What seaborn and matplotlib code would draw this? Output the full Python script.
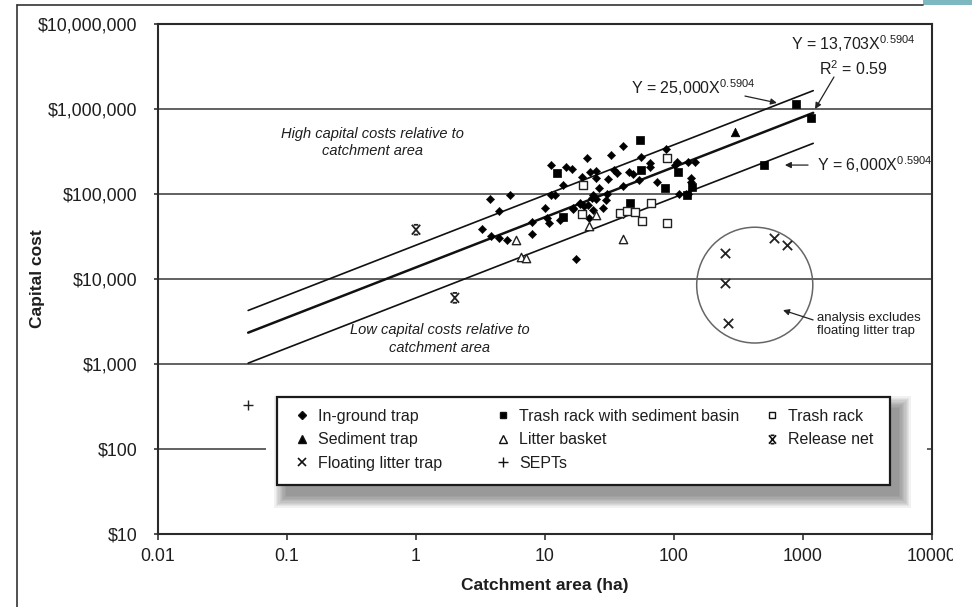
import numpy as np
import matplotlib.pyplot as plt
import seaborn as sns
from matplotlib.lines import Line2D
from matplotlib.patches import Rectangle, Ellipse
from matplotlib.path import Path
from matplotlib.ticker import FixedLocator, FuncFormatter, NullLocator
from matplotlib.transforms import Bbox, TransformedBbox

# ---- data (catchment area in ha, capital cost in $) ----
in_ground_x = [3.75, 5.4, 4.4, 3.24, 3.8, 4.4, 5.1, 7.9, 7.9, 10,
               10.4, 10.7, 13, 16.5, 17.5, 11.2, 14.5, 16.2, 13.8, 11.2,
               12, 21, 22.5, 25, 23.4, 16.6, 18.6, 21.5, 25, 22,
               40, 32.6, 55, 87, 105, 128, 145, 102, 65, 65,
               34, 36, 45, 48, 25, 19.5, 31, 54, 74, 40,
               26, 135, 135, 110, 123, 128, 23, 30, 29.5, 18.6,
               20, 23.4, 28, 40]
in_ground_y = [87000, 98000, 63000, 39000, 32000, 30000, 29000, 34000, 47000, 69000,
               52000, 46000, 49000, 66000, 17000, 220000, 210000, 195000, 127000, 98000,
               98000, 264000, 182000, 186000, 98000, 69000, 76000, 74000, 87000, 52000,
               363000, 288000, 274000, 340000, 240000, 240000, 240000, 219000, 230000, 210000,
               190000, 178000, 182000, 174000, 155000, 160000, 151000, 146000, 138000, 124000,
               117000, 155000, 138000, 100000, 100000, 100000, 89000, 99000, 86000, 78000,
               72000, 65000, 69000, 58000]

basin_x = [13.8, 12.4, 54.5, 108, 55.5, 85, 138, 126, 46, 500, 890, 1150]
basin_y = [54000, 175000, 431000, 182000, 190000, 117000, 122000, 98000, 78000,
           220000, 1150000, 780000]

rack_x = [19.7, 19.5, 89, 38, 43, 50, 66, 56, 89]
rack_y = [127000, 58000, 264000, 60000, 63000, 61000, 78000, 48000, 45000]

sediment_x = [295]
sediment_y = [537000]

basket_x = [5.96, 6.5, 7.1, 22, 25, 40]
basket_y = [29000, 18000, 17500, 42000, 56000, 29500]

floating_x = [250, 250, 260, 600, 750]
floating_y = [20000, 9000, 3000, 30000, 25000]

release_x = [1, 2]
release_y = [38000, 6000]

septs_x = [0.05]
septs_y = [330]

# fitted power laws Y = a * X^b
fit_coef = [25000, 13703, 6000]
fit_exp = 0.5904
fit_x = np.array([0.05, 1200])

x_ticks = [0.01, 0.1, 1, 10, 100, 1000, 10000]
x_labels = ["0.01", "0.1", "1", "10", "100", "1000", "10000"]
y_ticks = [10, 100, 1000, 10000, 100000, 1000000, 10000000]

W, H = 972, 607


def fpx(x, y):
    """figure pixel (origin top-left) -> figure fraction"""
    return (x / W, 1 - y / H)


sns.set_style("ticks")
plt.rcParams["font.family"] = ["Liberation Sans", "DejaVu Sans"]
plt.rcParams["mathtext.fontset"] = "custom"
plt.rcParams["mathtext.rm"] = "Liberation Sans"
plt.rcParams["mathtext.it"] = "Liberation Sans:italic"
TXT = "#1e1e1e"

fig = plt.figure(figsize=(W / 100, H / 100), dpi=100)
fig.patch.set_facecolor("white")
ax = fig.add_axes([158 / W, (H - 534) / H, 774 / W, 510 / H])

ax.set_xscale("log")
ax.set_yscale("log")
ax.set_xlim(0.01, 10000)
ax.set_ylim(10, 1e7)

# horizontal gridlines at each decade
for yv in y_ticks[1:-1]:
    ax.axhline(yv, color="#555555", lw=1.3, zorder=1)

# fitted lines
for i, a in enumerate(fit_coef):
    sns.lineplot(x=fit_x, y=a * fit_x ** fit_exp, ax=ax, color="#111111",
                 lw=1.8 if i == 1 else 1.2, zorder=2)

# release net marker: X with short bars at top and bottom
release_marker = Path(
    [(-0.85, -1), (0.85, 1), (-0.85, 1), (0.85, -1),
     (-0.45, 1), (0.45, 1), (-0.45, -1), (0.45, -1)],
    [Path.MOVETO, Path.LINETO] * 4)

sns.scatterplot(x=in_ground_x, y=in_ground_y, ax=ax, marker="D", s=18,
                color="black", edgecolor="black", linewidth=0.3, zorder=3)
sns.scatterplot(x=basin_x, y=basin_y, ax=ax, marker="s", s=34,
                color="black", edgecolor="black", linewidth=0.5, zorder=3)
sns.scatterplot(x=rack_x, y=rack_y, ax=ax, marker="s", s=34,
                facecolor="white", edgecolor="#222222", linewidth=1.0, zorder=3)
sns.scatterplot(x=sediment_x, y=sediment_y, ax=ax, marker="^", s=38,
                color="black", edgecolor="black", linewidth=0.5, zorder=3)
sns.scatterplot(x=basket_x, y=basket_y, ax=ax, marker="^", s=36,
                facecolor="white", edgecolor="#222222", linewidth=1.0, zorder=3)
sns.scatterplot(x=floating_x, y=floating_y, ax=ax, marker="x", s=45,
                color="#222222", linewidth=1.3, zorder=3)
sns.scatterplot(x=release_x, y=release_y, ax=ax, marker=release_marker, s=50,
                facecolor="none", edgecolor="#222222", linewidth=1.3, zorder=3)
sns.scatterplot(x=septs_x, y=septs_y, ax=ax, marker="+", s=55,
                color="#222222", linewidth=1.0, zorder=3)

# circle around floating litter traps
ax.add_patch(Ellipse((0.771, 0.488), 0.150, 0.227, transform=ax.transAxes,
                     fill=False, ec="#666666", lw=1.1, zorder=2))

# text annotations
ax.text(0.456, 4.0e5, "High capital costs relative to\ncatchment area", style="italic",
        ha="center", va="center", fontsize=10.5, color=TXT, linespacing=1.3)
ax.text(1.53, 1.97e3, "Low capital costs relative to\ncatchment area", style="italic",
        ha="center", va="center", fontsize=10.5, color=TXT, linespacing=1.3)
ax.text(2440, 5.9e6, "Y = 13,703X$^{0.5904}$", ha="center", va="center",
        fontsize=11.5, color=TXT)
ax.text(2440, 2.95e6, "R$^{2}$ = 0.59", ha="center", va="center",
        fontsize=11.5, color=TXT)
ax.text(140, 1.77e6, "Y = 25,000X$^{0.5904}$", ha="center", va="center",
        fontsize=11.5, color=TXT)
ax.text(1290, 2.19e5, "Y = 6,000X$^{0.5904}$", ha="left", va="center",
        fontsize=11.5, color=TXT)
ax.text(1285, 2.9e3, "analysis excludes\nfloating litter trap", ha="left", va="center",
        fontsize=9.5, color=TXT, linespacing=1.15)

arrow_kw = dict(arrowstyle="-|>", color="#222222", lw=0.9, mutation_scale=9,
                shrinkA=0, shrinkB=0)
ax.annotate("", xy=(628, 1.18e6), xytext=(355, 1.42e6), arrowprops=arrow_kw)
ax.annotate("", xy=(1240, 1.0e6), xytext=(1738, 2.38e6), arrowprops=arrow_kw)
ax.annotate("", xy=(724, 2.19e5), xytext=(1094, 2.19e5), arrowprops=arrow_kw)
ax.annotate("", xy=(700, 4.3e3), xytext=(1197, 3.3e3), arrowprops=arrow_kw)

# axes styling
ax.xaxis.set_major_locator(FixedLocator(x_ticks))
ax.xaxis.set_minor_locator(NullLocator())
ax.set_xticklabels(x_labels)
ax.yaxis.set_major_locator(FixedLocator(y_ticks))
ax.yaxis.set_minor_locator(NullLocator())
ax.yaxis.set_major_formatter(FuncFormatter(lambda v, p: "\\$" + f"{int(round(v)):,}"))
ax.tick_params(axis="x", direction="out", length=4, width=1.2, pad=6,
               labelsize=12.8, labelcolor=TXT, color="#333333")
ax.tick_params(axis="y", direction="out", length=3, width=1.2, pad=12,
               labelsize=12.8, labelcolor=TXT, color="#333333")
for sp in ax.spines.values():
    sp.set_visible(True)
    sp.set_color("#2a2a2a")
    sp.set_linewidth(1.5)

ax.set_xlabel("Catchment area (ha)", fontsize=12.5, fontweight="bold", color=TXT)
ax.set_ylabel("Capital cost", fontsize=12.5, fontweight="bold", color=TXT)
ax.xaxis.set_label_coords(0.5, -0.086)
ax.yaxis.set_label_coords(-0.146, 0.5)

# last x tick label is cut at the picture's right edge
clip = TransformedBbox(Bbox.from_extents(0, 0, 953 / W, 1), fig.transFigure)
last_label = ax.xaxis.get_major_ticks()[-1].label1
last_label.set_clip_box(clip)
last_label.set_clip_on(True)

# legend area: white cover, soft shadow, framed box
x0, y0, x1, y1 = 277, 397, 890, 485
fig.add_artist(Rectangle(fpx(266, 510), (927 - 266) / W, 120 / H, transform=fig.transFigure,
                         facecolor="white", lw=0, zorder=1))
for i in range(10):
    g = 1.3 * i
    fig.add_artist(Rectangle(fpx(x0 + 9 - g, y1 + 11 + g), (x1 - x0 + 2 * g) / W,
                             (y1 - y0 + 2 * g) / H, transform=fig.transFigure,
                             facecolor="#3a3a3a", alpha=0.065, lw=0, zorder=2))
fig.add_artist(Rectangle(fpx(x0, y1), (x1 - x0) / W, (y1 - y0) / H, transform=fig.transFigure,
                         facecolor="white", edgecolor="#1a1a1a", lw=1.6, zorder=3))


def handle(marker, face, ms=5, mew=1.0):
    return Line2D([], [], ls="none", marker=marker, markersize=ms, color="#111111",
                  markerfacecolor=face, markeredgecolor="#111111", markeredgewidth=mew)


columns = [
    ([handle("D", "black", 4), handle("^", "black", 5.5), handle("x", "none", 6, 1.2)],
     ["In-ground trap", "Sediment trap", "Floating litter trap"], 302),
    ([handle("s", "black", 5), handle("^", "white", 5.5), handle("+", "none", 7, 1.0)],
     ["Trash rack with sediment basin", "Litter basket", "SEPTs"], 503),
    ([handle("s", "white", 5), handle(release_marker, "none", 6, 1.2)],
     ["Trash rack", "Release net"], 772),
]
fs = 11.5
hl = 0.8
for hs, labels, mx in columns:
    left = mx - hl * fs * 100 / 72 / 2
    leg = fig.legend(hs, labels, loc="upper left", bbox_to_anchor=fpx(left, 409),
                     frameon=False, fontsize=fs, handlelength=hl, handletextpad=0.6,
                     labelspacing=0.52, borderpad=0, borderaxespad=0)
    leg.set_zorder(5)
    for t in leg.get_texts():
        t.set_color(TXT)

# outer frame of the picture and the coloured tab at the top right
fig.add_artist(Line2D([17 / W, 17 / W], [0, 1 - 5 / H], transform=fig.transFigure,
                      color="#333333", lw=1.2))
fig.add_artist(Line2D([17 / W, 923 / W], [1 - 5 / H, 1 - 5 / H], transform=fig.transFigure,
                      color="#333333", lw=1.2))
fig.add_artist(Rectangle(fpx(923, 5), 49 / W, 5 / H, transform=fig.transFigure,
                         facecolor="#7db7bf", lw=0))

fig.savefig("out.png", dpi=100)
